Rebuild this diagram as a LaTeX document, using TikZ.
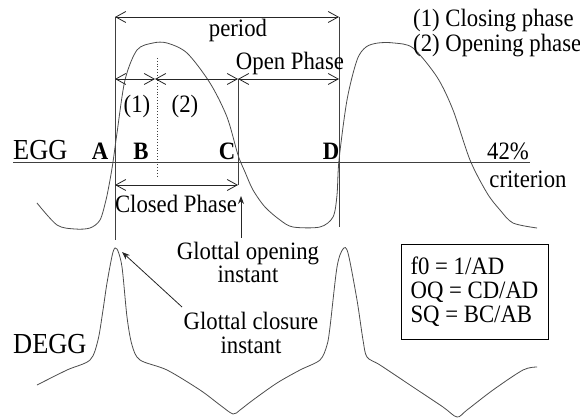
\documentclass[tikz,border=0pt]{standalone}
\usepackage{fontspec}
\setmainfont{Liberation Serif}[FakeStretch=0.91]
\usetikzlibrary{arrows.meta}
\tikzset{
  lbl/.style={anchor=base, inner sep=0pt, font=\fontsize{25}{24}\selectfont},
  big/.style={lbl, font=\fontsize{29}{29}\selectfont},
  guide/.style={line width=0.8pt, black!75},
  wave/.style={line width=0.8pt, black!70},
  dim/.style={line width=0.8pt, black!85,
    {Straight Barb[length=10pt,width=11pt]}-{Straight Barb[length=10pt,width=11pt]}},
  pointer/.style={line width=0.8pt, black!85, -{Stealth[length=8pt,width=6pt]}},
}
\begin{document}
\begin{tikzpicture}[x=1pt,y=-1pt]
  \useasboundingbox (0,0) rectangle (580,419);
  % marks
      \coordinate (tl) at (115,17);  \coordinate (tr) at (339,17);
      \coordinate (pl) at (115,79);  \coordinate (pm) at (155,79);
      \coordinate (pc) at (238,79);  \coordinate (pr) at (339,79);
      \coordinate (cl) at (115,185); \coordinate (cr) at (238,185);
      \coordinate (bl) at (115,240); \coordinate (br) at (339,227);
      \coordinate (dt) at (157,58);  \coordinate (db) at (157,176);
      \coordinate (el) at (13,162);  \coordinate (er) at (530,162);
      \coordinate (go) at (241,238); \coordinate (gt) at (241,196);
      \coordinate (co) at (182,307); \coordinate (ct) at (122,252);
  % lines
      \draw[guide] (tl) -- (bl);
      \draw[guide] (tr) -- (br);
      \draw[guide] (pc) -- (cr);
      \draw[guide, dotted] (dt) -- (db);
      \draw[guide] (el) -- (er);
  % signals
      \draw[wave] plot[smooth, tension=0.5] coordinates {(37,203) (57,225) (75,229) (90,228) (100,220)
        (106,200) (110,180) (113,162) (117,133) (125,80) (137,50) (153,43) (167,43) (187,53)
        (210,83) (227,117) (238,155) (245,172) (253,190) (265,207) (280,220) (293,227)
        (320,227) (333,217) (337,195) (339,160) (347,100) (357,60) (366,47) (378,43) (394,43)
        (413,48) (437,77) (453,110) (470,160) (487,193) (500,210) (513,223) (537,228)};
      \draw[wave] plot[smooth, tension=0.5] coordinates {(37,385) (67,370) (90,360) (98,340)
        (103,310) (107,283) (113,252) (117,249) (122,267) (127,317) (132,345) (140,360)
        (167,370) (200,390) (220,405) (233,414) (240,410) (253,400) (277,383) (300,370)
        (320,360) (327,345) (330,327) (337,267) (343,249) (348,253) (357,300) (363,340)
        (367,357) (380,365) (413,387) (443,407) (457,417) (467,410) (493,390) (523,370)
        (537,367)};
  % arrows
      \foreach \a/\b in {tl/tr,pl/pm,pm/pc,pc/pr,cl/cr}{
          \draw[dim] (\a) -- (\b);
      }
      \draw[pointer] (go) -- (gt);
      \draw[pointer] (co) -- (ct);
  % labels
      \node[lbl] (period) at (238,37) {period};
      \node[lbl] (open) at (290,70) {Open Phase};
      \node[lbl] (one) at (137,113) {(1)};
      \node[lbl] (two) at (185,113) {(2)};
      \node[big, anchor=base west] (egg) at (13,160) {EGG};
      \foreach \n/\x in {A/100,B/141,C/227,D/331}{
          \node[lbl, font=\fontsize{25}{24}\selectfont\bfseries] (\n) at (\x,160) {\n};
      }
      \node[lbl] (crit) at (508,160) {42\%};
      \node[lbl] (crit2) at (528,188) {criterion};
      \node[lbl] (closed) at (176,213) {Closed Phase};
      \node[lbl, align=center] (gopen) at (248,283) {Glottal opening\\instant};
      \node[lbl, align=center] (gclose) at (251,353) {Glottal closure\\instant};
      \node[big, anchor=base west] (degg) at (13,353) {DEGG};
      \node[lbl, anchor=base west] (leg1) at (413,27) {(1) Closing phase};
      \node[lbl, anchor=base west] (leg2) at (413,52) {(2) Opening phase};
      \node[lbl, anchor=center, draw, line width=0.8pt, align=left,
            minimum width=147pt, minimum height=95pt] (box) at (474.5,291.5)
            {f0 = 1/AD\\OQ = CD/AD\\SQ = BC/AB};
\end{tikzpicture}
\end{document}
